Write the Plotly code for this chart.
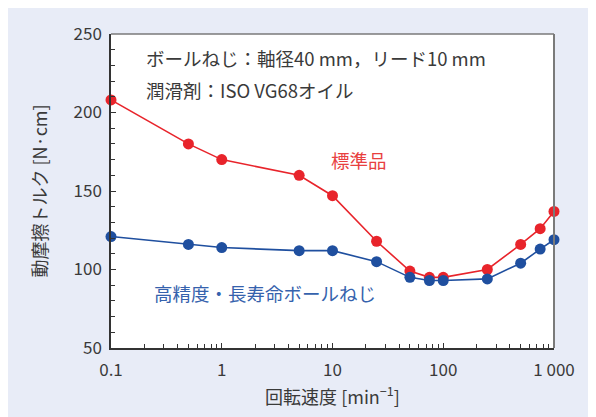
import plotly.graph_objects as go

# Data
speed_std = [0.1, 0.5, 1, 5, 10, 25, 50, 75, 100, 250, 500, 750, 1000]
torque_std = [208, 180, 170, 160, 147, 118, 99, 95, 95, 100, 116, 126, 137]
speed_hp = [0.1, 0.5, 1, 5, 10, 25, 50, 75, 100, 250, 500, 750, 1000]
torque_hp = [121, 116, 114, 112, 112, 105, 95, 93, 93, 94, 104, 113, 119]

x_tickvals = [0.1, 1, 10, 100, 1000]
x_ticktext = ["0.1", "1", "10", "100", "1 000"]
y_tickvals = [50, 100, 150, 200, 250]

RED = "#e8242b"
BLUE = "#1f4f9f"
TXT = "#3a3a3a"
FONT = "Noto Sans CJK JP"

minor_x = [m * 10 ** e for e in range(-1, 3) for m in range(2, 10)]

fig = go.Figure()
fig.add_trace(go.Scatter(x=speed_std, y=torque_std, mode="lines+markers",
                         line=dict(color=RED, width=1.6),
                         marker=dict(color=RED, size=11), cliponaxis=False,
                         showlegend=False))
fig.add_trace(go.Scatter(x=speed_hp, y=torque_hp, mode="lines+markers",
                         line=dict(color=BLUE, width=1.6),
                         marker=dict(color=BLUE, size=11), cliponaxis=False,
                         showlegend=False))

OFF = 8  # page body margin
W, H = 588, 409
L, R, T, B = 103, 42, 26, 69
pw, ph = W - L - R, H - T - B

def px(xp):  # page pixel x -> paper
    return (xp - OFF - L) / pw

def py(yp):  # page pixel y -> paper
    return (H - B - (yp - OFF)) / ph

fig.update_layout(
    width=W, height=H,
    margin=dict(l=L, r=R, t=T, b=B, autoexpand=False),
    paper_bgcolor="#e8ecf7",
    plot_bgcolor="white",
    font=dict(family=FONT, color=TXT, size=17),
    xaxis=dict(type="log", range=[-1, 3], tickvals=x_tickvals, ticktext=x_ticktext,
               ticks="inside", ticklen=5, tickwidth=1, tickcolor="#333",
               showline=True, linecolor="#333", linewidth=1.5,
               showgrid=False, zeroline=False, ticklabelstandoff=6,
               minor=dict(tickvals=minor_x, ticks="inside", ticklen=4,
                          tickcolor="#333", showgrid=False),
               title=dict(text="回転速度 [min<sup>−1</sup>]", font=dict(size=18),
                          standoff=11)),
    yaxis=dict(range=[50, 250], tickvals=y_tickvals,
               ticks="inside", ticklen=5, tickwidth=1, tickcolor="#333",
               showline=True, linecolor="#333", linewidth=1.5,
               showgrid=False, zeroline=False, ticklabelstandoff=4,
               minor=dict(dtick=10, ticks="inside", ticklen=4,
                          tickcolor="#333", showgrid=False),
               title=dict(text="動摩擦トルク [N·cm]", font=dict(size=18),
                          standoff=21)),
    shapes=[
        dict(type="line", xref="paper", yref="paper", x0=0, x1=1, y0=1, y1=1,
             line=dict(color="#7a7a7a", width=1.5)),
        dict(type="line", xref="paper", yref="paper", x0=1, x1=1, y0=0, y1=1,
             line=dict(color="#7a7a7a", width=2)),
    ],
    annotations=[
        dict(text="ボールねじ：軸径40 mm，リード10 mm", xref="paper", yref="paper",
             x=px(144), y=py(58), xanchor="left", yanchor="middle",
             showarrow=False, font=dict(size=18.5, color=TXT)),
        dict(text="潤滑剤：ISO VG68オイル", xref="paper", yref="paper",
             x=px(144), y=py(90), xanchor="left", yanchor="middle",
             showarrow=False, font=dict(size=18.5, color=TXT)),
        dict(text="標準品", xref="paper", yref="paper",
             x=px(359), y=py(160), xanchor="center", yanchor="middle",
             showarrow=False, font=dict(size=18.5, color="#e8403f")),
        dict(text="高精度・長寿命ボールねじ", xref="paper", yref="paper",
             x=px(265), y=py(293), xanchor="center", yanchor="middle",
             showarrow=False, font=dict(size=18.5, color="#3562ad")),
    ],
)

fig.write_html("out.html")
